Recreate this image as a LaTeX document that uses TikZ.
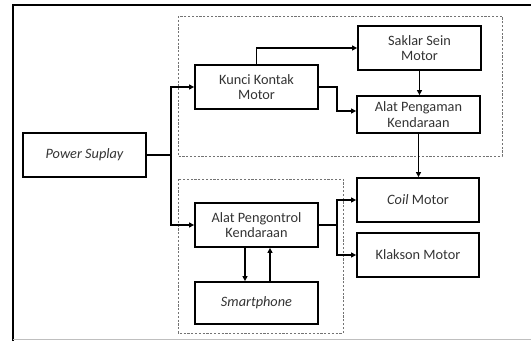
\documentclass[tikz,border=0pt]{standalone}
\usepackage{fontspec}
\setmainfont{Carlito}
\usetikzlibrary{arrows.meta}
\usetikzlibrary{calc}

\tikzset{
  blok/.style={rectangle, draw, line width=1.8pt, inner sep=1pt, align=center,
    minimum width=123pt, minimum height=44pt, text=black!80,
    font=\fontsize{14.3}{15.5}\selectfont},
  garis/.style={line width=1.5pt},
  panah/.style={line width=1.5pt, -{Triangle[length=5pt, width=5pt]}},
  grup/.style={draw=black!55, line width=0.6pt, dash pattern=on 2.2pt off 1.6pt}
}

\begin{document}
\begin{tikzpicture}[x=1pt, y=-1pt]
      \useasboundingbox (0,0) rectangle (531,341);

      % frame
      \draw[line width=1.8pt] (13,341) -- (13,5) -- (531,5);
      \draw[black!25, line width=0.8pt] (13,339.5) -- (531,339.5);

      % dashed groups
      \draw[grup] (178,16) rectangle (502,156);
      \draw[grup] (178,179) rectangle (343,333);

      \node[blok] (ps) at (84.5,155) {\itshape Power Suplay};
      \node[blok] (kunci) at (256.5,87) {Kunci Kontak\\Motor};
      \node[blok] (saklar) at (419.5,48) {Saklar Sein\\Motor};
      \node[blok, minimum height=37pt] (pengaman) at (418.5,114.5) {Alat Pengaman\\Kendaraan};
      \node[blok, minimum width=122pt] (coil) at (418,200) {\textit{Coil} Motor};
      \node[blok, minimum width=122pt] (klakson) at (418,255) {Klakson Motor};
      \node[blok] (pengontrol) at (256.5,225) {Alat Pengontrol\\Kendaraan};
      \node[blok, minimum height=42pt] (smart) at (256.5,303) {\itshape Smartphone};

      \coordinate (j1) at (171,155);
      \coordinate (j2) at (337,87);
      \coordinate (j3) at (337,225);

      \draw[garis] (ps.east) -- (j1);
      \draw[panah] (j1) |- (kunci.west);
      \draw[panah] (j1) |- (pengontrol.west);
      \draw[panah] (kunci.north) |- (saklar.west);
      \draw[panah] (saklar.south) -- (saklar.south |- pengaman.north);
      \draw[panah] (kunci.east) -- (j2) |- ([yshift=3.5pt]pengaman.west);
      \draw[panah] (pengaman.south) -- (pengaman.south |- coil.north);
      \draw[garis] (pengontrol.east) -- (j3);
      \draw[panah] (j3) |- (coil.west);
      \draw[panah] (j3) |- (klakson.west);
      \draw[panah] ([xshift=-11.5pt]pengontrol.south) -- ([xshift=-11.5pt]smart.north);
      \draw[panah] ([xshift=13.5pt]smart.north) -- ([xshift=13.5pt]pengontrol.south);
    \end{tikzpicture}
\end{document}
